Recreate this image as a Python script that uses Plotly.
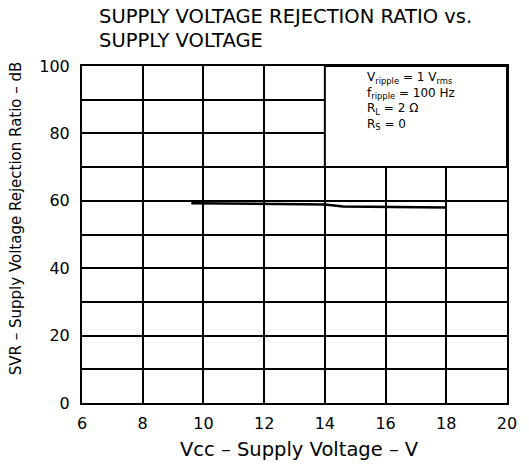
import plotly.graph_objects as go

# Data
vcc = [9.6, 12, 14, 14.6, 16, 18]
svr = [59.3, 59.2, 58.9, 58.3, 58.2, 58.0]

x_ticks = [6, 8, 10, 12, 14, 16, 18, 20]
y_ticks = [0, 20, 40, 60, 80, 100]
title_lines = ["SUPPLY VOLTAGE REJECTION RATIO vs.", "SUPPLY VOLTAGE"]
box_lines = ["V<sub>ripple</sub> = 1 V<sub>rms</sub>",
             "f<sub>ripple</sub> = 100 Hz",
             "R<sub>L</sub> = 2 Ω",
             "R<sub>S</sub> = 0"]

FONT = "DejaVu Sans, Liberation Sans, sans-serif"
W, H = 529, 466
L, R, T, B = 82, 14, 66, 63
PW, PH = W - L - R, H - T - B


def px_x(p):
    return (p - L) / PW


def px_y(p):
    return (H - B - p) / PH


fig = go.Figure()
fig.add_trace(go.Scatter(x=vcc, y=svr, mode="lines",
                         line=dict(color="black", width=2.5),
                         showlegend=False, hoverinfo="skip"))

fig.update_layout(
    width=W, height=H,
    margin=dict(l=L, r=R, t=T, b=B),
    paper_bgcolor="white", plot_bgcolor="white",
    font=dict(family=FONT, color="black", size=14),
)

fig.update_xaxes(range=[6, 20], tickvals=x_ticks, ticktext=[str(v) for v in x_ticks],
                 showgrid=True, gridcolor="black", gridwidth=2,
                 showline=True, linecolor="black", linewidth=2, mirror=True,
                 zeroline=False, ticks="outside", ticklen=5, tickcolor="white",
                 tickfont=dict(size=16, family=FONT))
fig.update_yaxes(range=[0, 100], tickvals=y_ticks, ticktext=[str(v) for v in y_ticks],
                 showgrid=True, gridcolor="black", gridwidth=2,
                 minor=dict(dtick=10, tick0=0, showgrid=True, gridcolor="black",
                            gridwidth=2, ticks=""),
                 showline=True, linecolor="black", linewidth=2, mirror=True,
                 zeroline=False, ticks="outside", ticklen=7, tickcolor="white",
                 tickfont=dict(size=16, family=FONT))

# Titles as annotations
for txt, yc in zip(title_lines, [17, 40]):
    fig.add_annotation(xref="paper", yref="paper", x=px_x(97), y=px_y(yc),
                       xanchor="left", yanchor="middle", showarrow=False,
                       text=txt, font=dict(size=19.5, family=FONT, color="black"))

fig.add_annotation(xref="paper", yref="paper", x=px_x(304), y=px_y(449),
                   xanchor="center", yanchor="middle", showarrow=False,
                   text="Vcc – Supply Voltage – V",
                   font=dict(size=19.5, family=FONT, color="black"))
fig.add_annotation(xref="paper", yref="paper", x=px_x(15), y=px_y(218),
                   xanchor="center", yanchor="middle", showarrow=False, textangle=-90,
                   text="SVR – Supply Voltage Rejection Ratio – dB",
                   font=dict(size=15, family=FONT, color="black"))

# Condition box (white, covers grid)
fig.add_shape(type="rect", xref="x", yref="y", x0=14, x1=20, y0=70, y1=100,
              fillcolor="white", line=dict(color="black", width=2), layer="above")

fig.add_annotation(xref="paper", yref="paper", x=px_x(370), y=px_y(101),
                   xanchor="left", yanchor="middle", showarrow=False, align="left",
                   text="<br>".join(box_lines),
                   font=dict(size=12, family=FONT, color="black"))

fig.write_html("out.html", config={"displayModeBar": False},
               post_script="document.body.style.margin='0';")
